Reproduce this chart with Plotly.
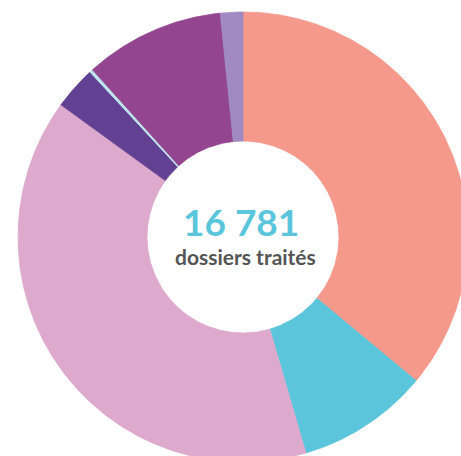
import numpy as np
import plotly.graph_objects as go

# Data, clockwise from 12 o'clock
categories = ["Catégorie A", "Catégorie B", "Catégorie C", "Catégorie D",
              "Catégorie E", "Catégorie F", "Catégorie G"]
values = [6045, 1589, 6629, 520, 40, 1688, 270]
colors = ["#F4998B", "#5BC5DC", "#DDA9CC", "#624193", "#BFE6EE", "#93458F", "#A08AC1"]
center_label = "dossiers traités"

# Layout / style
W, H = 461, 456
CX, CY = 243, 237
R_OUT, R_IN = 225, 96

total = sum(values)
fracs = np.array(values) / total
ends = np.cumsum(fracs) * 360.0
starts = ends - fracs * 360.0

fig = go.Figure()
for name, s, e, col in zip(categories, starts, ends, colors):
    n = max(4, int((e - s) * 4))
    ang = np.radians(np.linspace(s, e, n))
    xo = CX + R_OUT * np.sin(ang)
    yo = CY - R_OUT * np.cos(ang)
    xi = CX + R_IN * np.sin(ang[::-1])
    yi = CY - R_IN * np.cos(ang[::-1])
    x = np.concatenate([xo, xi, xo[:1]])
    y = np.concatenate([yo, yi, yo[:1]])
    fig.add_trace(go.Scatter(x=x, y=y, mode="lines", fill="toself",
                             fillcolor=col, line=dict(color=col, width=0.8),
                             name=name, hoverinfo="name", showlegend=False))

total_txt = f"{total:,}".replace(",", " ")
fig.add_annotation(x=CX - 2, y=221, text=f"<b>{total_txt}</b>", showarrow=False,
                   font=dict(family="Lato", size=37, color="#5BC5DC"),
                   xanchor="center", yanchor="middle")
fig.add_annotation(x=CX + 2, y=256, text=f"<b>{center_label}</b>", showarrow=False,
                   font=dict(family="Lato", size=21, color="#555555"),
                   xanchor="center", yanchor="middle")

fig.update_xaxes(range=[0, W], visible=False, fixedrange=True)
fig.update_yaxes(range=[H, 0], visible=False, fixedrange=True)
fig.update_layout(width=W, height=H, margin=dict(l=0, r=0, t=0, b=0),
                  paper_bgcolor="white", plot_bgcolor="white", showlegend=False)
fig.write_html("out.html")
